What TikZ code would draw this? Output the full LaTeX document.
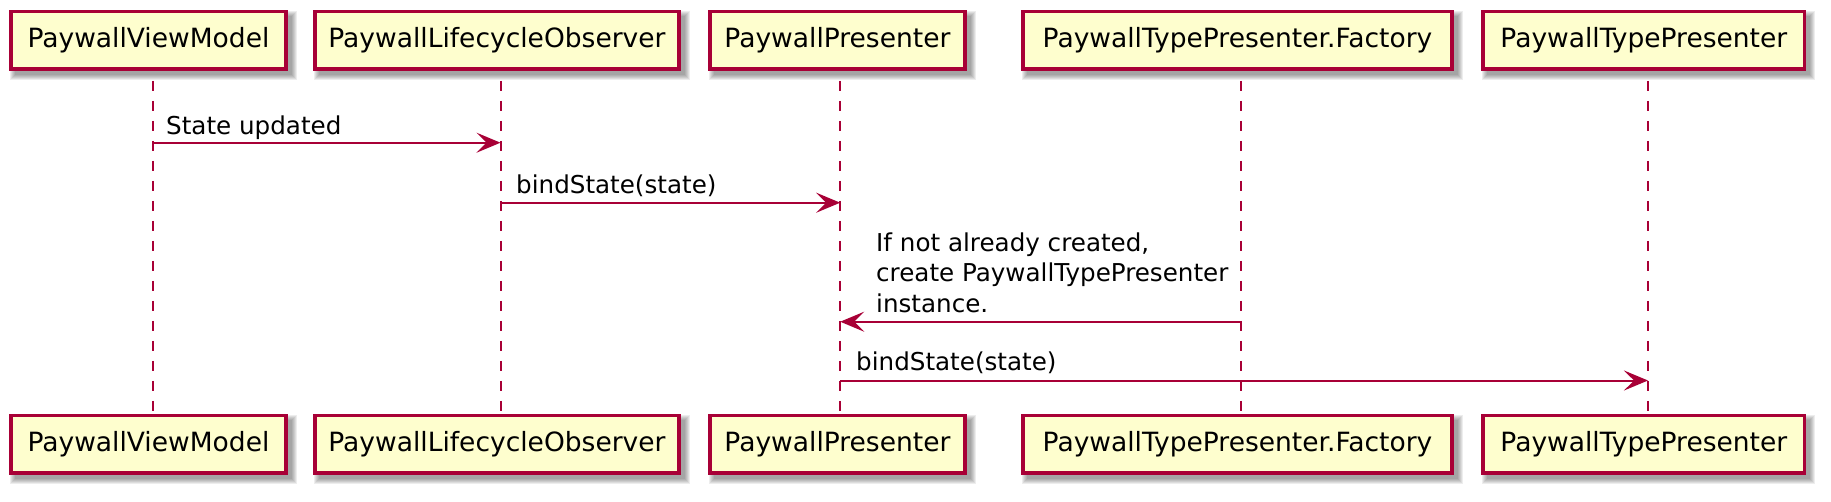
\documentclass[tikz,border=0pt]{standalone}
\usepackage{fontspec}
\setmainfont{DejaVu Sans}
\usetikzlibrary{arrows.meta,backgrounds}
\definecolor{pumlred}{HTML}{A80036}
\definecolor{pumlfill}{HTML}{FEFECE}
\begin{document}
\begin{tikzpicture}[x=1pt,y=-1pt,
  actor/.style={draw=pumlred, fill=pumlfill, line width=3.5pt, minimum height=57.5pt, inner sep=0pt,
    font=\fontsize{26.5pt}{30.5pt}\selectfont},
  lifeline/.style={draw=pumlred, line width=2pt, dash pattern=on 10pt off 10pt, dash phase=10pt},
  msg/.style={draw=pumlred, line width=2pt, -{Stealth[length=24pt,width=20pt,inset=10pt,fill=pumlred]}},
  lbl/.style={inner sep=0pt, anchor=base west, align=left, font=\fontsize{24.6pt}{30.3pt}\selectfont}]
\useasboundingbox (0,0) rectangle (1831,501);

% participants (top)
\node[actor, minimum width=274.6pt] (t1) at (148.45,40.4) {PaywallViewModel};
\node[actor, minimum width=363.8pt] (t2) at (496.95,40.4) {PaywallLifecycleObserver};
\node[actor, minimum width=255pt]   (t3) at (837.45,40.4) {PaywallPresenter};
\node[actor, minimum width=428.9pt] (t4) at (1237.5,40.4) {PaywallTypePresenter.Factory};
\node[actor, minimum width=321.6pt] (t5) at (1643.85,40.4) {PaywallTypePresenter};
% participants (bottom)
\node[actor, minimum width=274.6pt] (b1) at (148.45,444) {PaywallViewModel};
\node[actor, minimum width=363.8pt] (b2) at (496.95,444) {PaywallLifecycleObserver};
\node[actor, minimum width=255pt]   (b3) at (837.45,444) {PaywallPresenter};
\node[actor, minimum width=428.9pt] (b4) at (1237.5,444) {PaywallTypePresenter.Factory};
\node[actor, minimum width=321.6pt] (b5) at (1643.85,444) {PaywallTypePresenter};

% shadows
\begin{scope}[on background layer]
\foreach \n in {t1,t2,t3,t4,t5,b1,b2,b3,b4,b5}{
  \foreach \d in {-1,0,1,2,3,4}{
    \fill[black, opacity=0.07] ([shift={(5-\d,5-\d)}]\n.north west) rectangle ([shift={(5+\d,5+\d)}]\n.south east);
  }
}
\end{scope}

% lifeline x positions
\coordinate (x1) at (152.6,0);
\coordinate (x2) at (500.5,0);
\coordinate (x3) at (840.2,0);
\coordinate (x4) at (1241.3,0);
\coordinate (x5) at (1648,0);

\draw[lifeline] (t1.south -| x1) -- (b1.north -| x1);
\draw[lifeline] (t2.south -| x2) -- (b2.north -| x2);
\draw[lifeline] (t3.south -| x3) -- (b3.north -| x3);
\draw[lifeline] (t4.south -| x4) -- (b4.north -| x4);
\draw[lifeline] (t5.south -| x5) -- (b5.north -| x5);

% message rows
\coordinate (m1) at (0,142.7);
\coordinate (m2) at (0,202.7);
\coordinate (m3) at (0,321.7);
\coordinate (m4) at (0,380.5);

\draw[msg] (x1 |- m1) -- (x2 |- m1);
\node[lbl] (l1) at (166,134) {State updated};

\draw[msg] (x2 |- m2) -- (x3 |- m2);
\node[lbl] (l2) at (516,193.5) {bindState(state)};

\draw[msg] (x4 |- m3) -- (x3 |- m3);
\node[lbl] (l3) at (876,312) {If not already created,\\create PaywallTypePresenter\\instance.};

\draw[msg] (x3 |- m4) -- (x5 |- m4);
\node[lbl] (l4) at (856,370) {bindState(state)};
\end{tikzpicture}
\end{document}
